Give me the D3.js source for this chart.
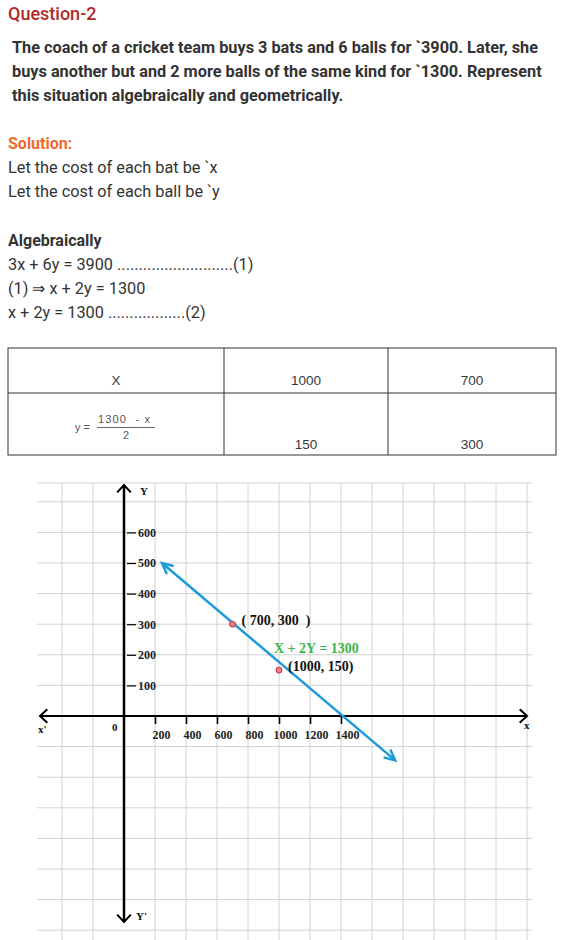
<!DOCTYPE html>
<html><head><meta charset="utf-8">
<script src="https://cdn.jsdelivr.net/npm/d3@7"></script>
<style>
body{margin:0;background:#fff;}
svg{display:block;}
svg text{white-space:pre;}
</style></head><body>
<svg id="c" width="569" height="940"></svg>
<script>
// ---------- data ----------
const title = "Question-2";
const questionLines = [
  "The coach of a cricket team buys 3 bats and 6 balls for `3900. Later, she",
  "buys another but and 2 more balls of the same kind for `1300. Represent",
  "this situation algebraically and geometrically."
];
const solutionLabel = "Solution:";
const letLines = ["Let the cost of each bat be `x", "Let the cost of each ball be `y"];
const algebraLabel = "Algebraically";
const equationLines = [
  "3x + 6y = 3900 ...........................(1)",
  "(1) \u21D2 x + 2y = 1300",
  "x + 2y = 1300 ..................(2)"
];
const tableHead = "X";
const tableX = [1000, 700];
const tableY = [150, 300];
const xTicks = [200, 400, 600, 800, 1000, 1200, 1400];
const yTicks = [100, 200, 300, 400, 500, 600];
const pointX = [700, 1000];
const pointY = [300, 150];
const pointLabels = ["( 700, 300  )", "(1000, 150)"];
const lineLabel = "X + 2Y = 1300";
const lineX = [245, 1750];   // drawn line end points
const lineY = [500, -145];

// ---------- setup ----------
const svg = d3.select("#c");
const sans = "Roboto, 'Noto Sans', sans-serif";
const serif = "'Liberation Serif', 'Times New Roman', serif";
const tsans = "'Liberation Sans', Arial, sans-serif";

// ---------- text block ----------
svg.append("text").attr("x", 8).attr("y", 20).text(title)
  .style("font-family", sans).style("font-size", "18px").style("font-weight", 500).attr("fill", "#b02a2a");
svg.selectAll("text.q").data(questionLines).join("text").attr("class", "q")
  .attr("x", 12).attr("y", (d, i) => 53 + i * 24).text(d => d)
  .style("font-family", sans).style("font-size", "16.3px").style("font-weight", 700).attr("fill", "#333");
svg.append("text").attr("x", 8).attr("y", 149).text(solutionLabel)
  .style("font-family", sans).style("font-size", "16px").style("font-weight", 700).attr("fill", "#f06a2c");
svg.selectAll("text.l").data(letLines).join("text").attr("class", "l")
  .attr("x", 8).attr("y", (d, i) => 173 + i * 24).text(d => d)
  .style("font-family", sans).style("font-size", "16.3px").attr("fill", "#333");
svg.append("text").attr("x", 8).attr("y", 246).text(algebraLabel)
  .style("font-family", sans).style("font-size", "16px").style("font-weight", 700).attr("fill", "#333");
svg.selectAll("text.e").data(equationLines).join("text").attr("class", "e")
  .attr("x", 8).attr("y", (d, i) => 270 + i * 24).text(d => d)
  .style("font-family", sans).style("font-size", "16.3px").attr("fill", "#333");

// ---------- table ----------
const colEdges = [8, 224, 388, 556];
const rowEdges = [348, 393, 455];
const tg = svg.append("g");
tg.append("rect").attr("x", colEdges[0]).attr("y", rowEdges[0])
  .attr("width", colEdges[3] - colEdges[0]).attr("height", rowEdges[2] - rowEdges[0])
  .attr("fill", "none").attr("stroke", "#333").attr("stroke-width", 1);
[1, 2].forEach(i => tg.append("line").attr("x1", colEdges[i]).attr("x2", colEdges[i])
  .attr("y1", rowEdges[0]).attr("y2", rowEdges[2]).attr("stroke", "#333"));
tg.append("line").attr("x1", colEdges[0]).attr("x2", colEdges[3]).attr("y1", rowEdges[1]).attr("y2", rowEdges[1]).attr("stroke", "#333");
const cx = i => (colEdges[i] + colEdges[i + 1]) / 2;
tg.append("text").attr("x", cx(0)).attr("y", 385).text(tableHead);
tg.selectAll("text.tx").data(tableX).join("text").attr("class", "tx")
  .attr("x", (d, i) => cx(i + 1)).attr("y", 385).text(d => d);
tg.selectAll("text.ty").data(tableY).join("text").attr("class", "ty")
  .attr("x", (d, i) => cx(i + 1)).attr("y", 449).text(d => d);
tg.selectAll("text").attr("text-anchor", "middle").style("font-family", tsans)
  .style("font-size", "13.5px").attr("fill", "#3a3a3a");
// formula y = (1300 - x)/2
const fg = svg.append("g").style("font-family", tsans).style("font-size", "11px").attr("fill", "#555");
fg.append("text").attr("x", 75).attr("y", 431).text("y =");
fg.append("text").attr("x", 98).attr("y", 423).text("1300  - x").attr("textLength", 52);
fg.append("line").attr("x1", 97).attr("x2", 155).attr("y1", 427.5).attr("y2", 427.5).attr("stroke", "#666").attr("stroke-width", 1);
fg.append("text").attr("x", 123).attr("y", 439).text("2");

// ---------- graph ----------
const x = d3.scaleLinear().domain([0, 2600]).range([124, 527]);
const y = d3.scaleLinear().domain([0, 600]).range([716, 532.4]);
const plot = {left: 37, right: 532, top: 483, bottom: 940};
const gg = svg.append("g");
const gridX = d3.range(-600, 2601, 200).filter(v => x(v) > plot.left && x(v) <= plot.right && v !== 0);
const gridY = d3.range(-800, 801, 100).filter(v => y(v) > plot.top + 5 && y(v) < plot.bottom && v !== 0);
gg.selectAll("line.gx").data(gridX).join("line").attr("class", "gx")
  .attr("x1", d => x(d)).attr("x2", d => x(d)).attr("y1", plot.top).attr("y2", plot.bottom)
  .attr("stroke", "#d2d2d2").attr("stroke-width", 1);
gg.selectAll("line.gy").data(gridY).join("line").attr("class", "gy")
  .attr("x1", plot.left).attr("x2", plot.right).attr("y1", d => y(d)).attr("y2", d => y(d))
  .attr("stroke", "#d2d2d2").attr("stroke-width", 1);
gg.append("line").attr("x1", plot.left).attr("x2", plot.right).attr("y1", plot.top).attr("y2", plot.top)
  .attr("stroke", "#d2d2d2").attr("stroke-width", 1);

// axes lines
const x0 = x(0), y0 = y(0);
gg.append("line").attr("x1", 40).attr("x2", 526).attr("y1", y0).attr("y2", y0).attr("stroke", "#000").attr("stroke-width", 2);
gg.append("line").attr("x1", x0).attr("x2", x0).attr("y1", 485).attr("y2", 922).attr("stroke", "#000").attr("stroke-width", 2.5);
function chevron(g, tip, ang, size, spread, color, w) {
  const a1 = ang + Math.PI - spread, a2 = ang + Math.PI + spread;
  g.append("path").attr("d",
    `M${tip[0] + size * Math.cos(a1)},${tip[1] + size * Math.sin(a1)}L${tip[0]},${tip[1]}L${tip[0] + size * Math.cos(a2)},${tip[1] + size * Math.sin(a2)}`)
    .attr("fill", "none").attr("stroke", color).attr("stroke-width", w).attr("stroke-linejoin", "miter");
}
chevron(gg, [527, y0], 0, 10, 0.75, "#000", 2);
chevron(gg, [40, y0], Math.PI, 10, 0.75, "#000", 2);
chevron(gg, [x0, 485], -Math.PI / 2, 10, 0.75, "#000", 2);
chevron(gg, [x0, 922], Math.PI / 2, 10, 0.75, "#000", 2);

// tick marks via d3 axes
const xa = gg.append("g").attr("transform", `translate(0,${y0})`)
  .call(d3.axisBottom(x).tickValues(xTicks).tickFormat(d3.format("d")).tickSizeInner(8).tickSizeOuter(0).tickPadding(6));
xa.select(".domain").remove();
xa.selectAll("line").attr("stroke", "#000").attr("stroke-width", 1.6);
xa.selectAll("text").attr("dx", 6).style("font-family", serif).style("font-size", "12px")
  .style("font-weight", 700).attr("fill", "#222");
const ya = gg.append("g").attr("transform", `translate(${x0},0)`)
  .call(d3.axisRight(y).tickValues(yTicks).tickFormat(d3.format("d")).tickSizeInner(12).tickSizeOuter(0).tickPadding(2));
ya.select(".domain").remove();
ya.selectAll("line").attr("x1", 3).attr("stroke", "#000").attr("stroke-width", 1.2);
ya.selectAll("text").style("font-family", serif).style("font-size", "12px")
  .style("font-weight", 700).attr("fill", "#222");

// axis letters
const al = gg.append("g").style("font-family", serif).style("font-weight", 700).style("font-size", "11px").attr("fill", "#111");
al.append("text").attr("x", x0 + 16).attr("y", 495).text("Y");
al.append("text").attr("x", x0 + 12).attr("y", 920).text("Y'");
al.append("text").attr("x", 524).attr("y", 729).text("x");
al.append("text").attr("x", 38).attr("y", 733).text("x'");
al.append("text").attr("x", x0 - 12).attr("y", 731).text("0");

// blue line with arrow heads
const p0 = [x(lineX[0]), y(lineY[0])], p1 = [x(lineX[1]), y(lineY[1])];
const blue = "#1d9bd8";
gg.append("line").attr("x1", p0[0]).attr("y1", p0[1]).attr("x2", p1[0]).attr("y2", p1[1])
  .attr("stroke", blue).attr("stroke-width", 2.5);
const ang = Math.atan2(p1[1] - p0[1], p1[0] - p0[0]);
chevron(gg, p0, ang + Math.PI, 12, 0.45, blue, 2.5);
chevron(gg, p1, ang, 12, 0.45, blue, 2.5);

// points and labels
gg.selectAll("circle.pt").data(pointX).join("circle").attr("class", "pt")
  .attr("cx", d => x(d)).attr("cy", (d, i) => y(pointY[i])).attr("r", 3)
  .attr("fill", "#e87a88").attr("stroke", "#c8324a").attr("stroke-width", 1);
gg.selectAll("text.pl").data(pointLabels).join("text").attr("class", "pl")
  .attr("x", (d, i) => x(pointX[i]) + 9).attr("y", (d, i) => y(pointY[i]) + 1).text(d => d)
  .style("font-family", serif).style("font-weight", 700).style("font-size", "14px").attr("fill", "#111");
gg.append("text").attr("x", x(pointX[1]) - 5).attr("y", y(pointY[1]) - 17).text(lineLabel)
  .style("font-family", serif).style("font-weight", 700).style("font-size", "14px").attr("fill", "#3bb54a");
</script></body></html>
